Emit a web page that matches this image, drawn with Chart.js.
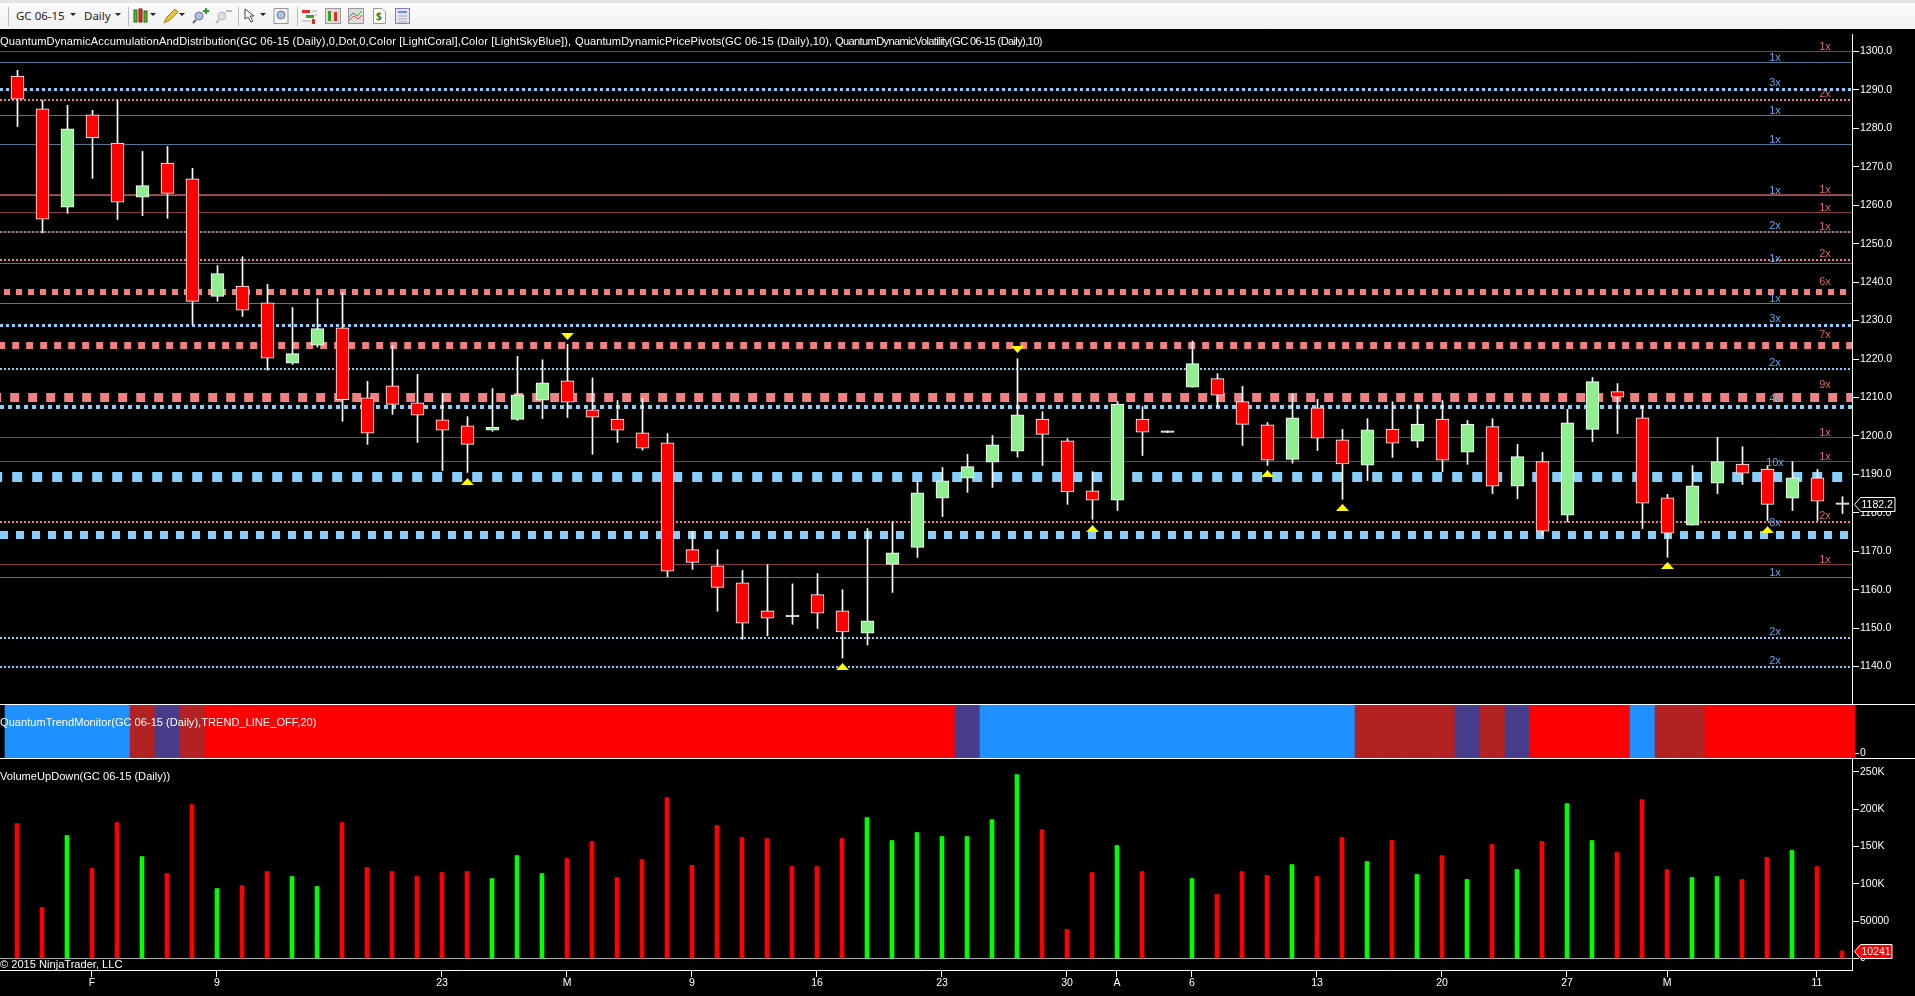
<!DOCTYPE html>
<html>
<head>
<meta charset="utf-8">
<title>GC 06-15 Daily</title>
<script src="https://cdn.jsdelivr.net/npm/chart.js@4"></script>
<style>
  html, body { margin: 0; padding: 0; background: #000; width: 1915px; height: 996px; overflow: hidden; }
  canvas { position: absolute; left: 0; }
  #priceChart { top: 34px; }
  #trendChart { top: 705px; }
  #volumeChart { top: 759px; }
  #toolbar {
    position: absolute; left: 0; top: 0; width: 1915px; height: 29px;
    background: linear-gradient(#fcfcfc, #f0f0f0);
    border-top: 3px solid #e4e4e4; box-sizing: border-box;
    font: 11.5px "Noto Sans", sans-serif; color: #222;
  }
  #toolbar span { position: absolute; top: 5px; }
  #toolbar i { position: absolute; top: 10px; width: 0; height: 0; border: 3px solid transparent; border-top: 3px solid #222; border-bottom: 0; }
  #toolbar b { position: absolute; top: 4px; width: 1px; height: 19px; background: #bbb; }
  #toolbar svg { position: absolute; top: 5px; }
  .note { position: absolute; color: #fff; font: 11.1px "Liberation Sans", sans-serif; white-space: nowrap; line-height: 12px; z-index: 5; }
  .rule { position: absolute; left: 0; width: 1915px; height: 1px; background: #fff; }
</style>
</head>
<body>

<div id="toolbar">
  <b style="left:8px"></b>
  <span style="left:16px">GC 06-15</span><i style="left:70px"></i>
  <span style="left:84px">Daily</span><i style="left:115px"></i>
  <b style="left:128px"></b>
  <svg style="left:133px" width="16" height="16"><rect x="1" y="2" width="3" height="12" fill="#5ab82e" stroke="#2a6a10"/><rect x="6" y="1" width="3" height="13" fill="#e03020" stroke="#801810"/><rect x="11" y="3" width="3" height="11" fill="#5ab82e" stroke="#2a6a10"/></svg>
  <i style="left:150px"></i>
  <svg style="left:163px" width="16" height="16"><path d="M1 15 L4 9 L12 1 L15 4 L7 12 Z" fill="#f0c030" stroke="#a08020"/></svg>
  <i style="left:179px"></i>
  <svg style="left:192px" width="18" height="16"><circle cx="7" cy="8" r="4" fill="#a8c4e0" stroke="#778"/><path d="M4 12 L1 15" stroke="#666" stroke-width="2"/><path d="M14 0 V6 M11 3 H17" stroke="#20a020" stroke-width="2"/></svg>
  <svg style="left:215px" width="18" height="16"><circle cx="7" cy="8" r="4" fill="#ddd" stroke="#bbb"/><path d="M4 12 L1 15" stroke="#bbb" stroke-width="2"/><path d="M11 3 H17" stroke="#bbb" stroke-width="2"/></svg>
  <b style="left:238px"></b>
  <svg style="left:244px" width="14" height="16"><path d="M1 1 L1 11 L4 9 L7 14 L9 13 L6 8 L10 8 Z" fill="#fff" stroke="#444"/></svg>
  <i style="left:260px"></i>
  <svg style="left:273px" width="16" height="16"><rect x="1" y="0.5" width="14" height="15" fill="#f4f4f4" stroke="#999"/><circle cx="8" cy="7" r="4" fill="#a8c4e0" stroke="#778"/></svg>
  <b style="left:297px"></b>
  <svg style="left:302px" width="16" height="16"><rect x="0" y="2" width="8" height="3" fill="#e03020"/><rect x="4" y="7" width="8" height="3" fill="#40a020"/><rect x="10" y="11" width="3" height="5" fill="#e03020"/><path d="M0 13 H9 M10 3 H15 M13 7 H15" stroke="#aaa"/></svg>
  <svg style="left:325px" width="16" height="16"><rect x="0.5" y="0.5" width="15" height="15" fill="#ddd" stroke="#999"/><rect x="3" y="3" width="3" height="10" fill="#40a020"/><rect x="9" y="4" width="3" height="9" fill="#e03020"/></svg>
  <svg style="left:348px" width="16" height="16"><rect x="0.5" y="0.5" width="15" height="15" fill="#ddd" stroke="#999"/><path d="M1 9 L5 5 L9 8 L14 3" stroke="#40a020" fill="none"/><path d="M1 12 L6 8 L10 11 L14 7" stroke="#e05040" fill="none"/></svg>
  <svg style="left:373px" width="13" height="16"><path d="M0.5 0.5 H9 L12.5 4 V15.5 H0.5 Z" fill="#fff" stroke="#999"/><text x="3" y="12" font-size="10" font-weight="bold" fill="#208020">$</text></svg>
  <svg style="left:395px" width="15" height="16"><rect x="0.5" y="0.5" width="14" height="15" fill="#e4e4f8" stroke="#8878d0"/><rect x="3" y="3" width="9" height="2" fill="#7090d0"/><path d="M3 8 H12 M3 11 H12 M3 14 H12" stroke="#aaa"/></svg>
</div>

<div class="note" style="left:0;top:35px;letter-spacing:0.14px">QuantumDynamicAccumulationAndDistribution(GC 06-15 (Daily),0,Dot,0,Color [LightCoral],Color [LightSkyBlue]),</div>
<div class="note" style="left:575px;top:35px;letter-spacing:0.08px">QuantumDynamicPricePivots(GC 06-15 (Daily),10),</div>
<div class="note" style="left:835px;top:35px;letter-spacing:-0.64px">QuantumDynamicVolatility(GC 06-15 (Daily),10)</div>
<div class="note" style="left:0;top:716px">QuantumTrendMonitor(GC 06-15 (Daily),TREND_LINE_OFF,20)</div>
<div class="note" style="left:0;top:770px">VolumeUpDown(GC 06-15 (Daily))</div>
<div class="note" style="left:0;top:958px">© 2015 NinjaTrader, LLC</div>

<div class="rule" style="top:704px"></div>
<div class="rule" style="top:758px"></div>

<canvas id="priceChart" width="1915" height="670"></canvas>
<canvas id="trendChart" width="1915" height="53"></canvas>
<canvas id="volumeChart" width="1915" height="237"></canvas>

<script>
'use strict';

// ********** data **********

const opens = [1293.6,1285.1,1259.5,1283.5,1276.2,1262.1,1271,1266.9,1236.3,1239,
  1234.6,1218.9,1223.6,1228.1,1209.9,1213,1208.6,1204.2,1202.6,1201.5,
  1204.3,1209.3,1214.3,1206.8,1204.4,1200.8,1198.2,1170.4,1166.2,1161.8,
  1154.5,1153.4,1158.7,1154.5,1148.7,1166.6,1171,1183.8,1189,1193.2,
  1196,1204.4,1198.7,1185.7,1183.3,1204.4,1201.3,1212.7,1214.9,1208.9,
  1202.9,1193.9,1207.3,1199,1192.4,1201.8,1198.6,1204.4,1195.8,1202.4,
  1186.9,1193.3,1179.4,1201.7,1211.5,1204.7,1183.9,1176.8,1187.7,1192.7,
  1191.4,1183.8,1189.1,1182.6];
const highs = [1295.1,1287.3,1286,1284.7,1287.3,1274,1275.3,1269.6,1244.3,1246.6,
  1239.4,1233.4,1235.7,1237.2,1214.2,1223.5,1216,1211,1205,1212.3,
  1220.7,1219.8,1223.8,1215.1,1209.2,1209.7,1200.6,1175.1,1170.4,1165,
  1166.5,1161.5,1164.2,1160,1175.9,1177.7,1188.1,1191.8,1195.2,1200.1,
  1220.1,1206.3,1199.3,1190.7,1208.9,1207.6,1201.3,1224.7,1216.2,1212.9,
  1203.5,1210.9,1209.5,1201.7,1204.5,1208.9,1208.2,1209.2,1204,1204.5,
  1197.8,1195.7,1206.9,1215.2,1213.6,1207.7,1184.8,1192.3,1199.6,1197.2,
  1192.3,1193.3,1191.3,1184.2];
const lows = [1280.5,1252.8,1257.9,1267,1256.3,1257.3,1256.6,1229,1235,1231.1,
  1217.1,1218.6,1223.1,1203.8,1197.8,1205.6,1198.3,1191,1190.5,1201.2,
  1204,1204.5,1204.8,1195.2,1198.3,1196.3,1163.4,1165.3,1154.4,1147.1,
  1148,1151,1149.9,1142.2,1145.6,1159.3,1168.4,1179,1185.3,1186.6,
  1194.5,1192.3,1182.2,1178.3,1180.6,1194.9,1200.9,1212.7,1207.5,1197.5,
  1192.3,1192.9,1196.2,1183.5,1188.4,1194.4,1197,1190.7,1192.6,1185,
  1183.7,1174.1,1177.7,1198.5,1200.6,1175.9,1168.4,1176.8,1185,1187.4,
  1178,1180.6,1178,1179.8];
const closes = [1287.6,1256.4,1279.9,1277.6,1260.8,1265.1,1263.1,1235,1242.2,1232.7,
  1220.2,1221.4,1227.9,1209.4,1200.7,1208.2,1205.4,1201.5,1197.8,1202.2,
  1210.7,1213.8,1208.8,1204.9,1201.5,1196.8,1164.8,1167.1,1160.6,1151.3,
  1152.6,1153,1153.9,1149,1151.9,1169.6,1185.2,1188.3,1192,1197.7,
  1205.5,1200.4,1185.4,1183.3,1208.3,1201,1200.9,1218.8,1210.6,1203,
  1193.7,1204.7,1199.4,1192.7,1201.6,1198.1,1203.1,1193.7,1203.1,1186.9,
  1194.6,1175.2,1203.4,1214.1,1210.1,1182.5,1174.7,1187,1193.3,1190.3,
  1182.2,1189.1,1183,1182.2];

const volumes = [181000,68400,164900,120600,182300,136700,113900,206400,93800,97800,
  116600,109900,96500,182300,122000,116600,109900,115300,116600,107200,
  138000,113900,134000,156800,108600,132700,215800,124700,178300,162200,
  160800,123300,123300,160800,189000,158200,168900,163500,163500,186300,
  246600,172900,38900,115300,151500,116600,null,107200,85800,116600,
  111300,126000,109900,162200,130000,158200,112600,138000,105900,152800,
  119300,156800,207800,158200,142000,213100,119300,108600,109900,105900,
  135400,144800,123300,10241];
const volumeTicks = [0,50000,100000,150000,200000,250000];

const trendStates = ['blue','blue','blue','blue','blue','brick','slate','brick',
  'red','red','red','red','red','red','red','red','red','red',
  'red','red','red','red','red','red','red','red','red','red',
  'red','red','red','red','red','red','red','red','red','red',
  'slate','blue','blue','blue','blue','blue','blue','blue','blue','blue','blue',
  'blue','blue','blue','blue','blue','brick','brick','brick','brick','slate','brick','slate',
  'red','red','red','red','blue','brick','brick','red','red','red','red','red','red'];
const trendTicks = [0];

const coralLevels = [1300,1287.38,1262.8,1258.12,1253.04,1245.76,1237.43,1223.52,1209.99,1199.58,1193.34,1177.6,1166.55];
const coralCounts = [1,2,1,1,1,2,6,7,9,1,1,2,1];
const blueLevels = [1297.14,1290.11,1283.35,1275.81,1262.54,1253.04,1244.85,1234.44,1228.72,1217.4,1207.52,1189.31,1174.22,1163.17,1147.43,1139.88];
const blueCounts = [1,3,1,1,1,2,1,1,3,2,4,10,8,1,2,2];

const upMarkerBars = [18,33,43,50,53,66,70];
const upMarkerPrices = [1188.1,1140,1175.9,1190.2,1181.4,1166.3,1175.6];
const downMarkerBars = [22,40];
const downMarkerPrices = [1225.9,1222.5];

const dayTickBars = [3,8,17,22,27,32,37,42,44,47,52,57,62,66,72];
const dayTickLabels = ['F','9','23','M','9','16','23','30','A','6','13','20','27','M','11'];

// ********** shared bits **********

const barCount = closes.length;
const axisFont = { family: '"Liberation Sans", sans-serif', size: 10.5 };
const trendColors = { blue: '#1E90FF', brick: '#B22222', slate: '#483D8B', red: '#FF0000' };
const dashPhase = { 10: 7.8, 9: 7.8, 8: 0, 7: 1.8, 6: 8, 4: 0, 3: 0, 2: 0 };

Chart.defaults.animation = false;
Chart.defaults.responsive = false;
Chart.defaults.layout.autoPadding = false;
Chart.defaults.plugins.legend.display = false;
Chart.defaults.plugins.tooltip.enabled = false;

function fixRightAxis(scale) {
  scale.width = 63;
  scale.paddingTop = 0;
  scale.paddingBottom = 0;
}

function setTicks(values) {
  return function (scale) {
    scale.ticks = values.map(function (v) { return { value: v }; });
  };
}

function levelDataset(price, count, thickColor, thinColor) {
  return {
    type: 'line',
    data: [{ x: -0.7, y: price }, { x: 73.38, y: price }],
    borderColor: count === 1 ? thinColor : thickColor,
    borderWidth: count,
    borderDash: count === 1 ? [] : [count, count],
    borderDashOffset: dashPhase[count] || 0,
    pointRadius: 0,
    order: 5,
  };
}

function triangleImage(up) {
  const c = document.createElement('canvas');
  c.width = 13;
  c.height = 7;
  const g = c.getContext('2d');
  g.fillStyle = '#FFFF00';
  g.beginPath();
  if (up) {
    g.moveTo(0, 7); g.lineTo(6.5, 0); g.lineTo(13, 7);
  } else {
    g.moveTo(0, 0); g.lineTo(6.5, 7); g.lineTo(13, 0);
  }
  g.fill();
  return c;
}

// the little "1x", "9x" notes that sit over each level line
const levelNotes = {
  id: 'levelNotes',
  afterDatasetsDraw(chart) {
    const ctx = chart.ctx;
    const y = chart.scales.y;
    ctx.save();
    ctx.font = '11px "Liberation Sans", sans-serif';
    ctx.textAlign = 'center';
    ctx.textBaseline = 'middle';
    ctx.fillStyle = '#5aa8ee';
    blueLevels.forEach(function (p, i) {
      ctx.fillText(blueCounts[i] + 'x', 1775, y.getPixelForValue(p) - 4 - blueCounts[i]);
    });
    ctx.fillStyle = '#d8675e';
    coralLevels.forEach(function (p, i) {
      ctx.fillText(coralCounts[i] + 'x', 1825, y.getPixelForValue(p) - 4 - coralCounts[i]);
    });
    ctx.restore();
  }
};

// flag on the right axis showing the last value
function lastValueTag(value, text, fill, right) {
  return {
    id: 'lastValueTag',
    afterDraw(chart) {
      const ctx = chart.ctx;
      const y = Math.round(chart.scales.y.getPixelForValue(value)) + 0.5;
      ctx.save();
      ctx.beginPath();
      ctx.moveTo(1854.5, y);
      ctx.lineTo(1860.5, y - 7);
      ctx.lineTo(right, y - 7);
      ctx.lineTo(right, y + 7);
      ctx.lineTo(1860.5, y + 7);
      ctx.closePath();
      ctx.fillStyle = fill;
      ctx.fill();
      ctx.strokeStyle = '#fff';
      ctx.stroke();
      ctx.fillStyle = '#fff';
      ctx.font = '10.5px "Liberation Sans", sans-serif';
      ctx.textBaseline = 'middle';
      ctx.fillText(text, 1861.5, y + 0.5);
      ctx.restore();
    }
  };
}

// ********** price pane **********

const priceDatasets = [];

coralLevels.forEach(function (p, i) {
  priceDatasets.push(levelDataset(p, coralCounts[i], '#F08080', '#8a3f3f'));
});
blueLevels.forEach(function (p, i) {
  priceDatasets.push(levelDataset(p, blueCounts[i], '#87CEFA', '#4f7a99'));
});

priceDatasets.push({
  label: 'wicks',
  grouped: false,
  data: closes.map(function (c, i) { return { x: i, y: [lows[i], highs[i]] }; }),
  backgroundColor: '#fff',
  barThickness: 1,
  order: 3,
});

priceDatasets.push({
  label: 'bodies',
  grouped: false,
  data: closes.map(function (c, i) { return { x: i, y: [opens[i], c] }; }),
  backgroundColor: closes.map(function (c, i) {
    if (Math.abs(c - opens[i]) < 0.5) return '#fff';
    return c > opens[i] ? '#90EE90' : '#FF0000';
  }),
  borderColor: '#fff',
  borderWidth: 1,
  borderSkipped: false,
  barThickness: 13,
  order: 2,
});

priceDatasets.push({
  type: 'scatter',
  data: upMarkerBars.map(function (b, i) { return { x: b, y: upMarkerPrices[i] }; }),
  pointStyle: triangleImage(true),
  pointRadius: 6,
  order: 1,
});

priceDatasets.push({
  type: 'scatter',
  data: downMarkerBars.map(function (b, i) { return { x: b, y: downMarkerPrices[i] }; }),
  pointStyle: triangleImage(false),
  pointRadius: 6,
  order: 1,
});

new Chart(document.getElementById('priceChart').getContext('2d'), {
  type: 'bar',
  data: { datasets: priceDatasets },
  options: {
    scales: {
      x: { type: 'linear', display: false, offset: false, min: -0.7, max: 73.38 },
      y: {
        position: 'right',
        min: 1130.26,
        max: 1304.55,
        afterFit: fixRightAxis,
        border: { color: '#fff' },
        grid: { drawOnChartArea: false, tickColor: '#fff', tickLength: 7 },
        ticks: {
          stepSize: 10,
          includeBounds: false,
          autoSkip: false,
          color: '#fff',
          font: axisFont,
          padding: 1,
          callback: function (v) { return v.toFixed(1); },
        },
      },
    },
  },
  plugins: [levelNotes, lastValueTag(closes[barCount - 1], closes[barCount - 1].toFixed(1), '#000', 1895)],
});

// ********** trend monitor pane **********

new Chart(document.getElementById('trendChart').getContext('2d'), {
  type: 'bar',
  data: {
    datasets: [{
      data: trendStates.map(function (s, i) { return { x: i, y: [-1, 10] }; }),
      backgroundColor: trendStates.map(function (s) { return trendColors[s]; }),
      barThickness: 25,
      clip: false,
    }],
  },
  options: {
    scales: {
      x: { type: 'linear', display: false, offset: false, min: -0.7, max: 73.38 },
      y: {
        position: 'right',
        min: -1,
        max: 10,
        afterFit: fixRightAxis,
        afterBuildTicks: setTicks(trendTicks),
        border: { display: false },
        grid: { drawOnChartArea: false, tickColor: '#fff', tickLength: 7 },
        ticks: {
          color: '#fff',
          font: axisFont,
          padding: 1,
        },
      },
    },
  },
});

// ********** volume pane **********

new Chart(document.getElementById('volumeChart').getContext('2d'), {
  type: 'bar',
  data: {
    datasets: [{
      data: volumes.map(function (v, i) { return { x: i, y: v }; }),
      backgroundColor: closes.map(function (c, i) { return c > opens[i] ? '#00FF00' : '#FF0000'; }),
      barThickness: 4,
    }],
  },
  options: {
    scales: {
      x: {
        type: 'linear',
        offset: false,
        min: -0.68,
        max: 73.4,
        border: { color: '#fff' },
        grid: { drawOnChartArea: false, tickColor: '#fff', tickLength: 7, offset: false },
        afterBuildTicks: setTicks(dayTickBars),
        afterFit: function (scale) {
          scale.height = 26;
          scale.paddingLeft = 0;
          scale.paddingRight = 0;
        },
        ticks: {
          autoSkip: false,
          maxRotation: 0,
          color: '#fff',
          font: axisFont,
          padding: 0,
          callback: function (v) { return dayTickLabels[dayTickBars.indexOf(v)]; },
        },
      },
      y: {
        position: 'right',
        min: -15416,
        max: 267400,
        afterFit: fixRightAxis,
        afterBuildTicks: setTicks(volumeTicks),
        border: { color: '#fff' },
        grid: {
          color: function (c) { return c.tick.value === 0 ? '#aaaaaa' : 'rgba(0,0,0,0)'; },
          tickColor: '#fff',
          tickLength: 7,
        },
        ticks: {
          autoSkip: false,
          color: '#fff',
          font: axisFont,
          padding: 1,
          callback: function (v) { return v >= 100000 ? (v / 1000) + 'K' : String(v); },
        },
      },
    },
  },
  plugins: [lastValueTag(volumes[barCount - 1], String(volumes[barCount - 1]), '#FF0000', 1892)],
});
</script>
</body>
</html>
